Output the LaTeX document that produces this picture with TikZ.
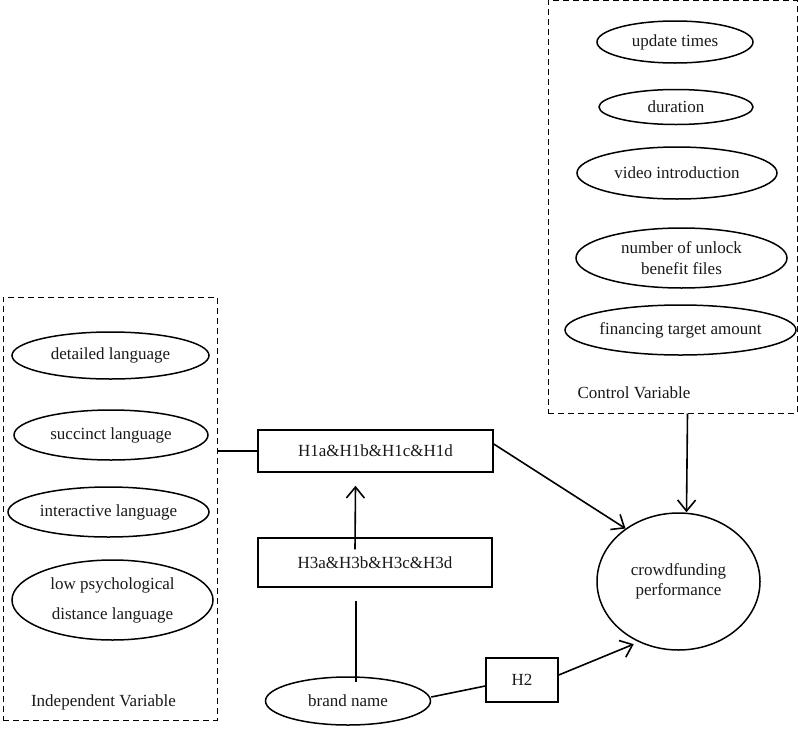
\documentclass[tikz,border=0pt]{standalone}
\usepackage{fontspec}
\setmainfont{Liberation Serif}
\usetikzlibrary{shapes.geometric,arrows.meta}
\begin{document}
\begin{tikzpicture}[x=1pt,y=-1pt,
  every node/.style={font=\fontsize{17}{20}\selectfont, inner sep=0pt, text=black!90},
  ell/.style={draw, ellipse, line width=1.5pt, align=center},
  hbox/.style={draw, rectangle, line width=1.5pt},
  grp/.style={draw, dash pattern=on 6pt off 4pt, line width=1pt},
  conn/.style={line width=1.6pt},
  arr/.style={conn, -{Straight Barb[length=11pt,width=18pt,line width=1.6pt]}}
]
\useasboundingbox (0,0) rectangle (798,734);

% control variable group
\node[grp, minimum width=249pt, minimum height=413pt] (ctrl) at (672.5,206.5) {};
\node[ell, minimum width=156pt, minimum height=42pt] (upd) at (675,42) {update times};
\node[ell, minimum width=154pt, minimum height=35pt] (dur) at (676,107) {duration};
\node[ell, minimum width=200pt, minimum height=52pt] (vid) at (677,173) {video introduction};
\node[ell, minimum width=211pt, minimum height=60pt] (num) at (681.5,258) {number of unlock\\[1pt]benefit files};
\node[ell, minimum width=231pt, minimum height=50pt] (fin) at (680.5,330) {financing target amount};
\node (ctrllab) at (634,393) {Control Variable};

% independent variable group
\node[grp, minimum width=214pt, minimum height=423pt] (indep) at (110,508.5) {};
\node[ell, minimum width=197pt, minimum height=47pt] (det) at (110.5,355.5) {detailed language};
\node[ell, minimum width=194pt, minimum height=50pt] (suc) at (111,435) {succinct language};
\node[ell, minimum width=201pt, minimum height=50pt] (int) at (108.5,512) {interactive language};
\node[ell, minimum width=201pt, minimum height=80pt] (low) at (112.5,600) {low psychological\\[10pt]distance language};
\node (indlab) at (103.5,702) {Independent Variable};

% hypotheses
\node[hbox, minimum width=235pt, minimum height=42pt] (h1) at (375.5,451) {H1a\&H1b\&H1c\&H1d};
\node[hbox, minimum width=234pt, minimum height=49pt] (h3) at (375,562.5) {H3a\&H3b\&H3c\&H3d};
\node[hbox, minimum width=72pt, minimum height=44pt] (h2) at (522,680) {H2};

% other nodes
\node[ell, minimum width=165pt, minimum height=48pt] (brand) at (348,701) {brand name};
\node[ell, minimum width=163pt, minimum height=137pt] (crowd) at (678.5,581.5) {crowdfunding\\[0pt]performance};

% connectors
\draw[conn] (indep.east |- h1.west) -- (h1.west);
\draw[arr] ([yshift=7pt]h1.east) -- (crowd.135);
\draw[arr] ([xshift=15pt]ctrl.south) -- ([xshift=8pt]crowd.north);
\draw[arr] ([shift={(-20pt,-12pt)}]h3.north) -- ([shift={(-20pt,-13pt)}]h1.south);
\draw[conn] ([shift={(-19pt,-13pt)}]h3.south) -- ([shift={(8pt,-6pt)}]brand.north);
\draw[conn] ([yshift=4pt]brand.east) -- ([yshift=-6pt]h2.west);
\draw[arr] ([yshift=5pt]h2.east) -- ([shift={(-3pt,-3pt)}]crowd.235);
\end{tikzpicture}
\end{document}
